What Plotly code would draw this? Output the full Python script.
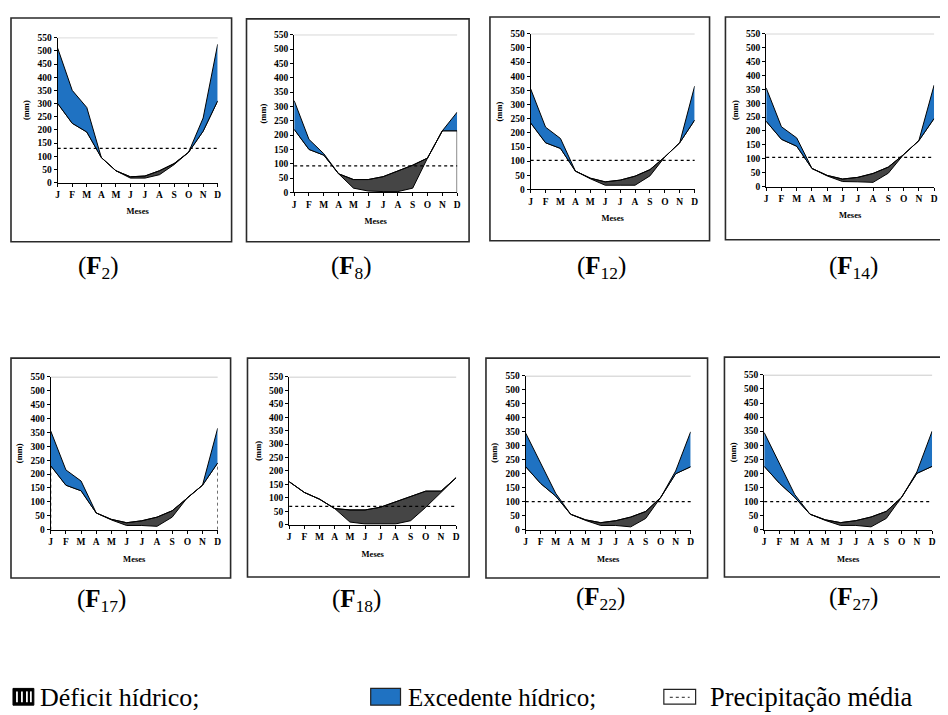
import plotly.graph_objects as go
import numpy as np

# ---------------- data ----------------
MONTHS = ["J", "F", "M", "A", "M", "J", "J", "A", "S", "O", "N", "D"]
PANEL_IDS = ["2", "8", "12", "14", "17", "18", "22", "27"]

# precipitation (P), potential (ETP) and real (ETR) evapotranspiration, mm
P_F2 = [510, 350, 285, 95, 45, 15, 15, 30, 68, 115, 245, 525]
ETP_F2 = [300, 225, 192, 95, 45, 22, 25, 45, 72, 115, 195, 310]
ETR_F2 = [300, 225, 192, 95, 45, 17, 17, 30, 68, 115, 195, 310]

P_F8 = [320, 185, 135, 65, 15, 5, 3, 3, 15, 120, 215, 280]
ETP_F8 = [220, 150, 130, 65, 45, 45, 55, 75, 95, 120, 215, 215]
ETR_F8 = [220, 150, 130, 65, 15, 5, 3, 3, 15, 120, 215, 215]

P_F12 = [355, 220, 180, 65, 38, 15, 15, 15, 48, 115, 165, 365]
ETP_F12 = [235, 165, 145, 65, 40, 27, 33, 47, 70, 115, 165, 245]
ETR_F12 = [235, 165, 145, 65, 38, 15, 15, 15, 48, 115, 165, 245]

P_F14 = [355, 215, 175, 65, 38, 18, 17, 15, 48, 115, 165, 365]
ETP_F14 = [235, 170, 145, 65, 40, 27, 33, 47, 70, 115, 165, 245]
ETR_F14 = [235, 170, 145, 65, 38, 18, 17, 15, 48, 115, 165, 245]

P_F17 = [355, 215, 175, 60, 35, 15, 15, 12, 45, 115, 160, 365]
ETP_F17 = [230, 160, 140, 60, 37, 25, 32, 45, 68, 115, 160, 240]
ETR_F17 = [230, 160, 140, 60, 35, 15, 15, 12, 45, 115, 160, 240]

P_F18 = [160, 120, 95, 60, 10, 3, 3, 3, 15, 65, 120, 175]
ETP_F18 = [160, 120, 95, 60, 55, 55, 65, 85, 105, 125, 125, 175]
ETR_F18 = [160, 120, 95, 60, 10, 3, 3, 3, 15, 65, 120, 175]

P_F22 = [345, 240, 130, 55, 33, 15, 15, 10, 40, 115, 210, 350]
ETP_F22 = [225, 165, 120, 55, 35, 25, 32, 45, 65, 115, 200, 225]
ETR_F22 = [225, 165, 120, 55, 33, 15, 15, 10, 40, 115, 200, 225]

P_F27 = [345, 235, 125, 55, 33, 15, 15, 10, 40, 115, 205, 350]
ETP_F27 = [225, 165, 115, 55, 35, 25, 32, 45, 65, 115, 200, 225]
ETR_F27 = [225, 165, 115, 55, 33, 15, 15, 10, 40, 115, 200, 225]

# mean precipitation line (mm); None = not drawn
MEAN_P = [130, 93, 103, 105, None, 68, 100, 100]

Y_TICKS = list(range(0, 551, 50))

SERIES = [
    (P_F2, ETP_F2, ETR_F2), (P_F8, ETP_F8, ETR_F8),
    (P_F12, ETP_F12, ETR_F12), (P_F14, ETP_F14, ETR_F14),
    (P_F17, ETP_F17, ETR_F17), (P_F18, ETP_F18, ETR_F18),
    (P_F22, ETP_F22, ETR_F22), (P_F27, ETP_F27, ETR_F27),
]

LEGEND_LABELS = ["Déficit hídrico;", "Excedente hídrico;", "Precipitação média"]

# ---------------- layout (pixels of the target picture) ----------------
W, H = 948, 715
OFF = 8  # page body margin of the html page
# plot areas: x_left, y_top, x_right, y_bottom
PLOT_BOX = [
    (56, 33, 217, 180), (294, 30, 458, 190), (532, 29, 697, 187), (769, 29, 938, 184),
    (49, 377, 217, 532), (289, 377, 457, 527), (527, 376, 693, 532), (767, 375, 936, 532),
]
FRAME_BOX = [
    (9, 13, 231, 240), (246, 14, 470, 240), (491, 12, 712, 239), (728, 12, 962, 238),
    (9, 358, 230, 581), (247, 358, 470, 580), (487, 358, 710, 581), (727, 357, 962, 580),
]
CAPTION_POS = [(97, 266), (352, 266), (603, 266), (857, 266),
               (100, 604), (357, 604), (602, 602), (857, 602)]
# vertical edge lines drawn in some panels (index -> list of (month idx, dash))
EDGE_LINES = {1: [(11, "solid")], 4: [(0, "dot"), (11, "dot")]}

BLUE = "#1f72c2"
GRAY = "#454545"
SERIF = "Liberation Serif"


def px(x):
    return (x - OFF) / W


def py(y):
    return 1 - (y - OFF) / H


fig = go.Figure()
shapes = []
annotations = []

for i, (P, ETP, ETR) in enumerate(SERIES):
    n = "" if i == 0 else str(i + 1)
    xa, ya = "x" + n, "y" + n
    x = list(range(len(MONTHS)))
    upper = list(np.maximum(np.array(P), np.array(ETP)))
    line = dict(color="black", width=1)
    fig.add_trace(go.Scatter(x=x, y=ETR, mode="lines", line=line, xaxis=xa, yaxis=ya,
                             showlegend=False, hoverinfo="skip"))
    fig.add_trace(go.Scatter(x=x, y=ETP, mode="lines", line=line, fill="tonexty",
                             fillcolor=GRAY, xaxis=xa, yaxis=ya, showlegend=False,
                             hoverinfo="skip"))
    fig.add_trace(go.Scatter(x=x, y=upper, mode="lines", line=line, fill="tonexty",
                             fillcolor=BLUE, xaxis=xa, yaxis=ya, showlegend=False,
                             hoverinfo="skip"))

    xl, yt, xr, yb = PLOT_BOX[i]
    tickfont = dict(family=SERIF, size=9.5, color="black", weight="bold")
    fig.layout["xaxis" + n] = dict(
        domain=[px(xl), px(xr)], anchor=ya, range=[0, 11], tickvals=x, ticktext=MONTHS,
        showline=True, linecolor="black", linewidth=1, ticks="outside", ticklen=3,
        tickcolor="black", showgrid=False, zeroline=False, tickfont=tickfont,
        title=dict(text="Meses", font=dict(family=SERIF, size=8.5, color="black", weight="bold"),
                   standoff=9),
        fixedrange=True,
    )
    fig.layout["yaxis" + n] = dict(
        domain=[py(yb), py(yt)], anchor=xa, range=[0, 550], tickvals=Y_TICKS,
        showline=True, linecolor="black", linewidth=1, ticks="outside", ticklen=3,
        tickcolor="black", showgrid=False, zeroline=False, tickfont=tickfont,
        title=dict(text="(mm)", font=dict(family=SERIF, size=8.5, color="black", weight="bold"),
                   standoff=6),
        fixedrange=True,
    )

    # top border of plot area
    shapes.append(dict(type="line", xref=xa + " domain", yref=ya, x0=0, x1=1, y0=550, y1=550,
                       line=dict(color="#9a9a9a", width=1)))
    # mean precipitation
    if MEAN_P[i] is not None:
        shapes.append(dict(type="line", xref=xa + " domain", yref=ya, x0=0, x1=1,
                           y0=MEAN_P[i], y1=MEAN_P[i],
                           line=dict(color="black", width=1.3, dash="dot")))
    for (mi, dash) in EDGE_LINES.get(i, []):
        shapes.append(dict(type="line", xref=xa, yref=ya, x0=mi, x1=mi, y0=0, y1=ETR[mi],
                           line=dict(color="black", width=1, dash=dash)))

    # frame
    fx0, fy0, fx1, fy1 = FRAME_BOX[i]
    shapes.append(dict(type="rect", xref="paper", yref="paper", x0=px(fx0), x1=px(fx1),
                       y0=py(fy1), y1=py(fy0), line=dict(color="#2a2a2a", width=1.6),
                       layer="below"))
    cx, cy = CAPTION_POS[i]
    annotations.append(dict(text="(<b>F</b><sub>" + PANEL_IDS[i] + "</sub>)", xref="paper",
                            yref="paper", x=px(cx), y=py(cy), showarrow=False,
                            xanchor="center", yanchor="middle",
                            font=dict(family=SERIF, size=25, color="black")))

# ---------------- legend (drawn) ----------------
LY = 702
# hatched icon
shapes.append(dict(type="rect", xref="paper", yref="paper", x0=px(11), x1=px(32),
                   y0=py(LY + 8), y1=py(LY - 9), fillcolor="black", line=dict(color="black", width=1)))
for hx in [15, 20, 25, 29]:
    shapes.append(dict(type="line", xref="paper", yref="paper", x0=px(hx), x1=px(hx),
                       y0=py(LY + 5), y1=py(LY - 6), line=dict(color="white", width=1.8)))
annotations.append(dict(text=LEGEND_LABELS[0], xref="paper", yref="paper", x=px(36), y=py(LY),
                        xanchor="left", yanchor="middle", showarrow=False,
                        font=dict(family=SERIF, size=26, color="black")))
# blue icon
shapes.append(dict(type="rect", xref="paper", yref="paper", x0=px(371), x1=px(401),
                   y0=py(LY + 8), y1=py(LY - 9), fillcolor=BLUE, line=dict(color="#222", width=1.2)))
annotations.append(dict(text=LEGEND_LABELS[1], xref="paper", yref="paper", x=px(407), y=py(LY),
                        xanchor="left", yanchor="middle", showarrow=False,
                        font=dict(family=SERIF, size=25, color="black")))
# dotted icon
shapes.append(dict(type="rect", xref="paper", yref="paper", x0=px(666), x1=px(698),
                   y0=py(LY + 7), y1=py(LY - 8), fillcolor="white", line=dict(color="#222", width=1.2)))
shapes.append(dict(type="line", xref="paper", yref="paper", x0=px(672), x1=px(692),
                   y0=py(LY), y1=py(LY), line=dict(color="#222", width=1, dash="dot")))
annotations.append(dict(text=LEGEND_LABELS[2], xref="paper", yref="paper", x=px(710), y=py(LY),
                        xanchor="left", yanchor="middle", showarrow=False,
                        font=dict(family=SERIF, size=26.5, color="black")))

fig.update_layout(
    width=W, height=H, margin=dict(l=0, r=0, t=0, b=0),
    paper_bgcolor="white", plot_bgcolor="white",
    shapes=shapes, annotations=annotations, showlegend=False,
)

fig.write_html("out.html")
